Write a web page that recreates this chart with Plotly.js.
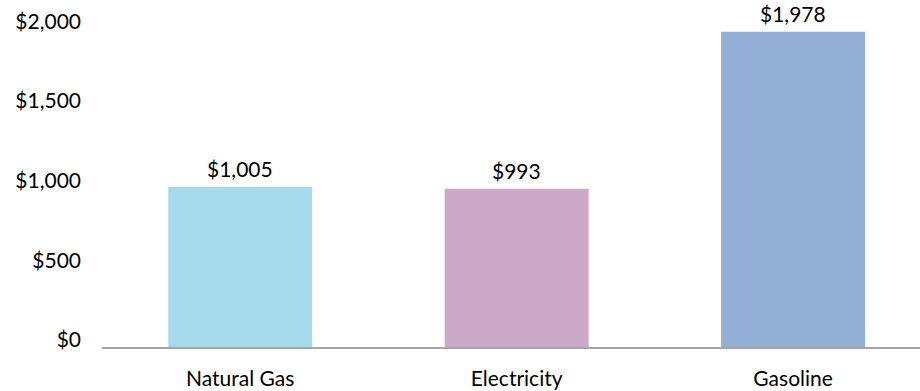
<!DOCTYPE html>
<html>
<head>
<meta charset="utf-8">
<script src="https://cdn.plot.ly/plotly-3.0.1.min.js"></script>
<style>html,body{margin:0;padding:0;background:#fff;}#chart{width:920px;height:391px;}</style>
</head>
<body>
<div id="chart"></div>
<script>
const categories = ["Natural Gas", "Electricity", "Gasoline"];
const costs = [1005, 993, 1978];
const costLabels = ["$1,005", "$993", "$1,978"];
const barColors = ["#A6D9EA", "#CCA9C8", "#95B0D6"];
const tickValues = [0, 500, 1000, 1500, 2000];
const tickLabels = ["$0", "$500", "$1,000", "$1,500", "$2,000"];

const FONT = "Lato, 'Open Sans', sans-serif";

const trace = {
  type: "bar",
  x: categories,
  y: costs,
  cliponaxis: false,
  marker: {color: barColors, line: {width: 0}},
  hoverinfo: "none"
};

const labelAnnotations = categories.map((c, i) => ({
  x: c,
  y: costs[i],
  xref: "x",
  yref: "y",
  text: costLabels[i],
  showarrow: false,
  yanchor: "bottom",
  yshift: 4,
  font: {family: FONT, size: 21, color: "#000"}
}));

const layout = {
  width: 920,
  height: 391,
  margin: {l: 102, r: 0, t: 10, b: 43.5},
  paper_bgcolor: "#fff",
  plot_bgcolor: "#fff",
  showlegend: false,
  bargap: 0.479,
  font: {family: FONT, size: 21, color: "#000"},
  annotations: labelAnnotations,
  xaxis: {
    type: "category",
    range: [-0.5, 2.459],
    showline: true,
    linecolor: "#A5A5A5",
    linewidth: 2,
    ticks: "",
    showgrid: false,
    zeroline: false,
    ticklabelstandoff: 12,
    tickfont: {family: FONT, size: 21, color: "#000"}
  },
  yaxis: {
    range: [0, 2114.7],
    tickmode: "array",
    tickvals: tickValues,
    ticktext: tickLabels,
    showline: false,
    showgrid: false,
    zeroline: false,
    ticks: "",
    ticklabelstandoff: 20,
    ticklabelshift: -7,
    tickfont: {family: FONT, size: 21, color: "#000"}
  }
};

Plotly.newPlot("chart", [trace], layout, {displayModeBar: false, staticPlot: true});
</script>
</body>
</html>
